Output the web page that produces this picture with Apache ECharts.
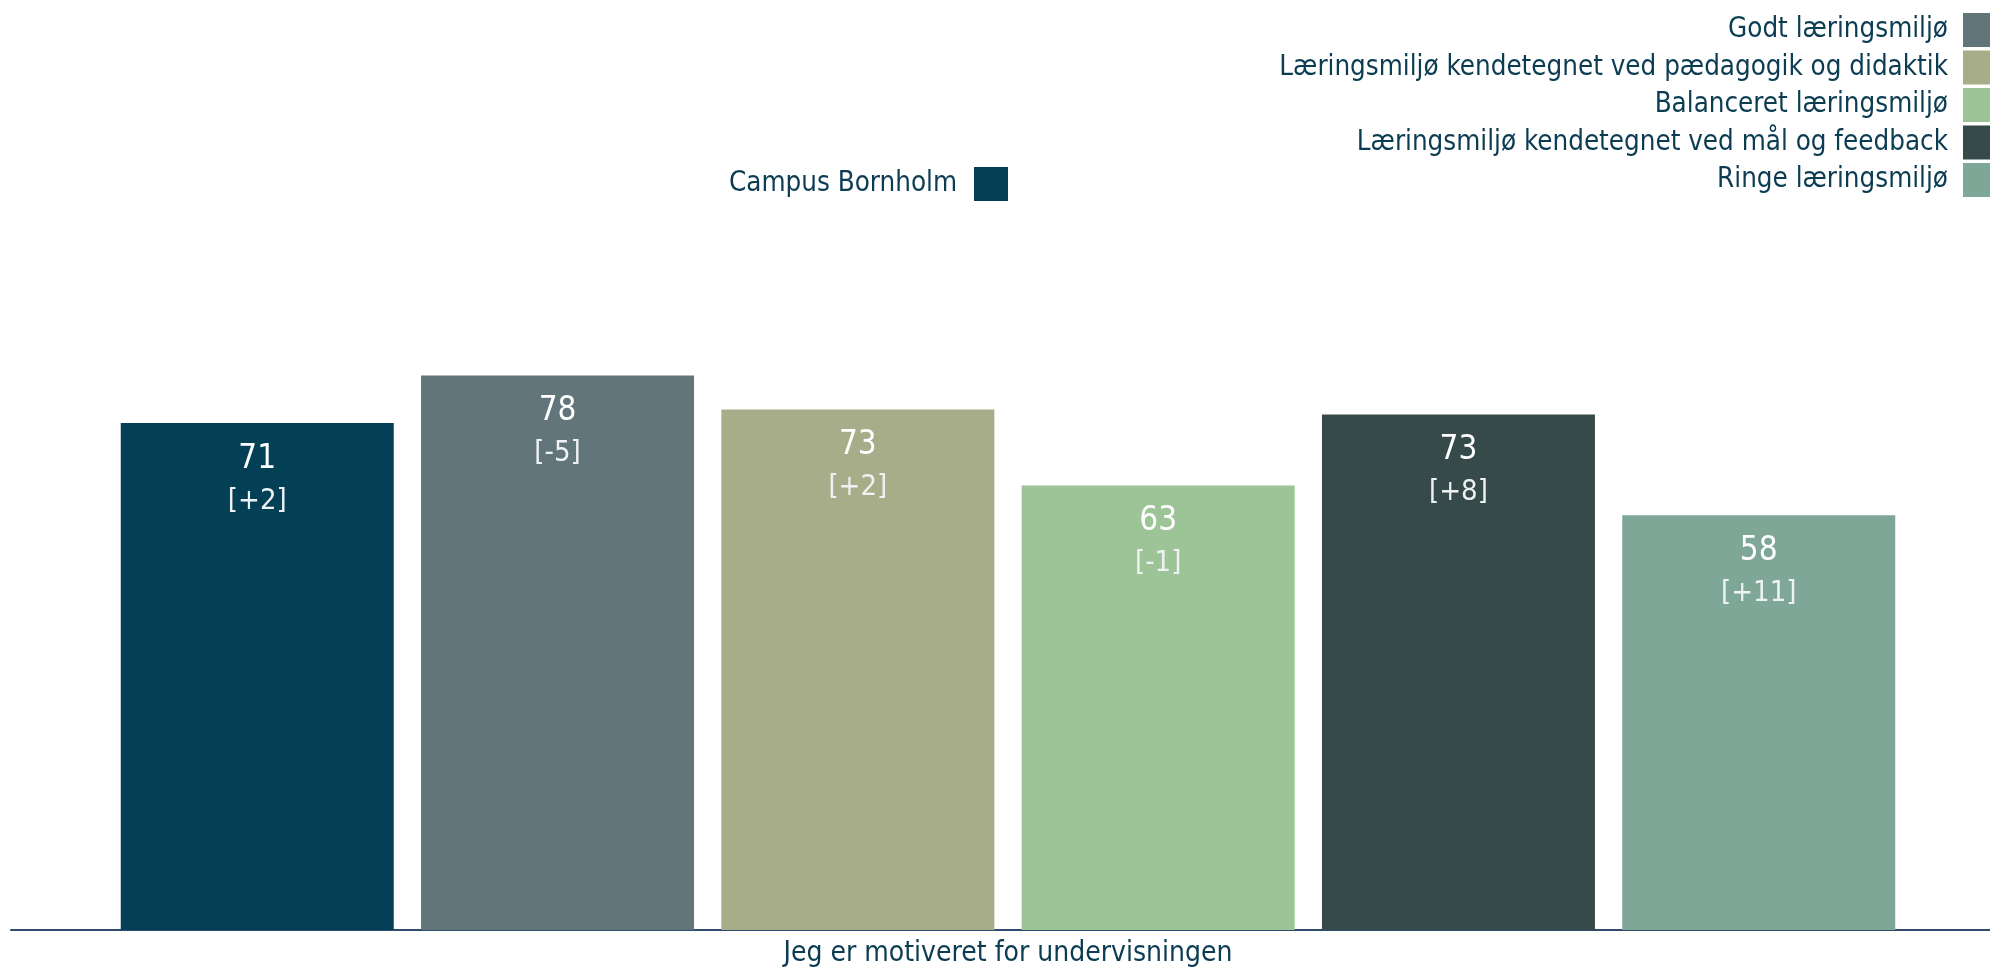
<!DOCTYPE html>
<html>
<head>
<meta charset="utf-8">
<script src="https://cdn.jsdelivr.net/npm/echarts@6/dist/echarts.min.js"></script>
<style>
  html, body { margin: 0; padding: 0; background: #fff; }
  #chart { width: 1990px; height: 972px; }
</style>
</head>
<body>
<div id="chart"></div>
<script>
var categories = ['Jeg er motiveret for undervisningen'];
var seriesNames = [
  'Campus Bornholm',
  'Godt læringsmiljø',
  'Læringsmiljø kendetegnet ved pædagogik og didaktik',
  'Balanceret læringsmiljø',
  'Læringsmiljø kendetegnet ved mål og feedback',
  'Ringe læringsmiljø'
];
var values = [71.4, 78.1, 73.3, 62.6, 72.6, 58.4];
var shownValues = ['71', '78', '73', '63', '73', '58'];
var deltas = ['[+2]', '[-5]', '[+2]', '[-1]', '[+8]', '[+11]'];
var colors = ['#033f55', '#62757b', '#a6ad88', '#9dc496', '#374a4a', '#7fa798'];

var FONT = '"DejaVu Sans Condensed", "Liberation Sans Narrow", sans-serif';
var TEXT = '#0b3c52';

var series = [];
for (var i = 0; i < seriesNames.length; i++) {
  (function(i) {
    series.push({
      name: seriesNames[i],
      type: 'bar',
      barWidth: 273,
      barGap: '10%',
      itemStyle: { color: colors[i] },
      data: [values[i]],
      label: {
        show: true,
        position: 'insideTop',
        distance: 15,
        formatter: function() {
          return '{a|' + shownValues[i] + '}\n{b|' + deltas[i] + '}';
        },
        rich: {
          a: { fontSize: 33, lineHeight: 42, color: '#fff', fontFamily: FONT },
          b: { fontSize: 29, lineHeight: 42, color: '#eef2f3', fontFamily: FONT }
        }
      }
    });
  })(i);
}

var chart = echarts.init(document.getElementById('chart'));
chart.setOption({
  animation: false,
  textStyle: { fontFamily: FONT },
  legend: [{
    data: [seriesNames[0]],
    right: 977,
    top: 162,
    align: 'right',
    icon: 'rect',
    itemWidth: 34,
    itemHeight: 34,
    textStyle: { color: TEXT, fontSize: 27.5, fontFamily: FONT, padding: [0, 12, 0, 0] }
  }, {
    data: seriesNames.slice(1),
    orient: 'vertical',
    right: -12,
    top: 8,
    align: 'right',
    icon: 'rect',
    itemWidth: 34,
    itemHeight: 34,
    itemGap: 3.5,
    textStyle: { color: TEXT, fontSize: 27.5, fontFamily: FONT, padding: [0, 10, 0, 0] }
  }],
  grid: [
    { left: 26, right: 0, top: 220, bottom: 42 },
    { left: 11, right: 0, top: 220, bottom: 42 }
  ],
  xAxis: [{
    type: 'category',
    gridIndex: 0,
    data: categories,
    axisLine: { show: false },
    axisTick: { show: false },
    axisLabel: { color: TEXT, fontSize: 28, fontFamily: FONT, margin: 10 }
  }, {
    type: 'category',
    gridIndex: 1,
    data: categories,
    axisLine: { lineStyle: { color: '#2f4b6e', width: 2 } },
    axisTick: { show: false },
    axisLabel: { show: false }
  }],
  yAxis: [{
    type: 'value',
    gridIndex: 0,
    min: 0,
    max: 100,
    show: false
  }, {
    type: 'value',
    gridIndex: 1,
    min: 0,
    max: 100,
    show: false
  }],
  series: series
});
</script>
</body>
</html>
